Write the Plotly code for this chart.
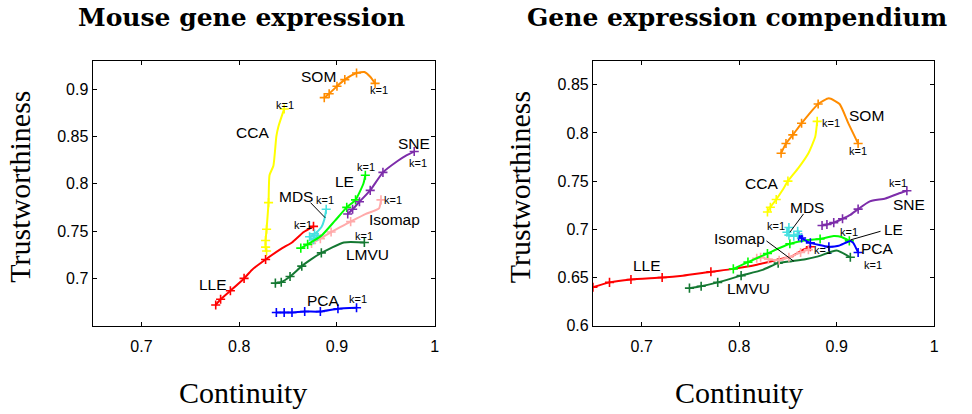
import plotly.graph_objects as go

# ---------------- Mouse gene expression (left panel) ----------------
# Each series: continuity (x), trustworthiness (y); first point is k=1.
# *_mk lists the indices of the points that carry a "+" marker.
m_som_x = [0.887, 0.892, 0.900, 0.908, 0.920, 0.928, 0.934, 0.939]
m_som_y = [0.891, 0.895, 0.903, 0.910, 0.917, 0.918, 0.913, 0.906]
m_som_mk = [0, 1, 2, 3, 4, 7]

m_cca_x = [0.846, 0.840, 0.838, 0.835, 0.831, 0.830, 0.828, 0.827, 0.827, 0.828]
m_cca_y = [0.879, 0.860, 0.850, 0.819, 0.809, 0.780, 0.752, 0.740, 0.733, 0.729]
m_cca_mk = [0, 5, 6, 7, 8, 9]

m_sne_x = [0.979, 0.971, 0.962, 0.947, 0.934, 0.923, 0.916, 0.911]
m_sne_y = [0.834, 0.830, 0.824, 0.812, 0.793, 0.781, 0.773, 0.768]
m_sne_mk = [0, 3, 4, 5, 6, 7]

m_le_x = [0.929, 0.927, 0.919, 0.910, 0.898, 0.884, 0.870, 0.863]
m_le_y = [0.809, 0.800, 0.783, 0.775, 0.761, 0.745, 0.736, 0.732]
m_le_mk = [0, 2, 3, 6, 7]

m_iso_x = [0.945, 0.943, 0.929, 0.914, 0.894, 0.883, 0.874]
m_iso_y = [0.783, 0.774, 0.768, 0.760, 0.749, 0.742, 0.737]
m_iso_mk = [0, 3, 4, 5, 6]

m_mds_x = [0.889, 0.887, 0.884, 0.877, 0.872, 0.876, 0.880]
m_mds_y = [0.773, 0.762, 0.754, 0.747, 0.744, 0.741, 0.745]
m_mds_mk = [0, 3, 4, 5, 6]

m_lle_x = [0.876, 0.866, 0.854, 0.844, 0.827, 0.813, 0.805, 0.791, 0.781, 0.776]
m_lle_y = [0.755, 0.749, 0.738, 0.732, 0.720, 0.709, 0.700, 0.687, 0.678, 0.672]
m_lle_mk = [0, 4, 6, 7, 8, 9]

m_lmvu_x = [0.928, 0.907, 0.884, 0.872, 0.864, 0.852, 0.843, 0.837]
m_lmvu_y = [0.738, 0.738, 0.727, 0.719, 0.713, 0.702, 0.696, 0.695]
m_lmvu_mk = [0, 2, 4, 5, 6, 7]

m_pca_x = [0.920, 0.901, 0.883, 0.867, 0.854, 0.846, 0.838]
m_pca_y = [0.669, 0.668, 0.665, 0.665, 0.664, 0.664, 0.664]
m_pca_mk = [0, 1, 2, 3, 4, 5, 6]

# ---------------- Gene expression compendium (right panel) ----------------
c_som_x = [0.922, 0.912, 0.903, 0.892, 0.881, 0.864, 0.855, 0.848, 0.843]
c_som_y = [0.789, 0.810, 0.830, 0.836, 0.830, 0.810, 0.798, 0.789, 0.779]
c_som_mk = [0, 4, 5, 6, 7, 8]

c_cca_x = [0.880, 0.878, 0.871, 0.861, 0.850, 0.844, 0.838, 0.832, 0.829]
c_cca_y = [0.812, 0.796, 0.779, 0.764, 0.750, 0.740, 0.731, 0.723, 0.718]
c_cca_mk = [0, 4, 6, 7, 8]

c_sne_x = [0.972, 0.963, 0.950, 0.934, 0.922, 0.914, 0.906, 0.897, 0.890, 0.885]
c_sne_y = [0.740, 0.737, 0.732, 0.729, 0.721, 0.715, 0.711, 0.707, 0.705, 0.704]
c_sne_mk = [0, 4, 6, 7, 8, 9]

c_mds_x = [0.851, 0.849, 0.851, 0.856, 0.860, 0.860]
c_mds_y = [0.702, 0.697, 0.694, 0.693, 0.695, 0.698]
c_mds_mk = [0, 1, 2, 3, 4, 5]

c_pca_x = [0.922, 0.917, 0.914, 0.902, 0.892, 0.881, 0.873, 0.864, 0.861]
c_pca_y = [0.676, 0.686, 0.688, 0.683, 0.682, 0.684, 0.686, 0.691, 0.693]
c_pca_mk = [0, 4, 6, 7, 8]

c_le_x = [0.913, 0.905, 0.897, 0.883, 0.870, 0.852, 0.829, 0.809, 0.794]
c_le_y = [0.688, 0.692, 0.693, 0.690, 0.689, 0.685, 0.675, 0.666, 0.659]
c_le_mk = [0, 3, 5, 6, 7, 8]

c_lle_x = [0.873, 0.864, 0.854, 0.837, 0.817, 0.794, 0.771, 0.742, 0.721, 0.689, 0.667, 0.650]
c_lle_y = [0.682, 0.678, 0.672, 0.668, 0.663, 0.659, 0.656, 0.652, 0.650, 0.648, 0.645, 0.640]
c_lle_mk = [0, 6, 8, 9, 10, 11]

c_iso_x = [0.871, 0.863, 0.851, 0.841, 0.830, 0.822, 0.818]
c_iso_y = [0.679, 0.676, 0.671, 0.668, 0.669, 0.671, 0.670]
c_iso_mk = [0, 1, 2, 3, 4, 5, 6]

c_lmvu_x = [0.914, 0.900, 0.881, 0.868, 0.854, 0.840, 0.824, 0.802, 0.778, 0.761, 0.749]
c_lmvu_y = [0.671, 0.678, 0.672, 0.669, 0.667, 0.665, 0.658, 0.652, 0.645, 0.641, 0.639]
c_lmvu_mk = [0, 5, 7, 8, 9, 10]

# Axis ticks
x_ticks = [0.7, 0.8, 0.9, 1.0]
x_ticktext = ["0.7", "0.8", "0.9", "1"]
m_y_ticks = [0.7, 0.75, 0.8, 0.85, 0.9]
m_y_ticktext = ["0.7", "0.75", "0.8", "0.85", "0.9"]
c_y_ticks = [0.6, 0.65, 0.7, 0.75, 0.8, 0.85]
c_y_ticktext = ["0.6", "0.65", "0.7", "0.75", "0.8", "0.85"]

COLORS = {
    "SOM": "rgb(255,140,0)",
    "CCA": "rgb(255,255,0)",
    "SNE": "rgb(125,45,170)",
    "LE": "rgb(0,255,0)",
    "Isomap": "rgb(255,170,170)",
    "MDS": "rgb(70,225,225)",
    "LLE": "rgb(255,0,0)",
    "LMVU": "rgb(20,120,50)",
    "PCA": "rgb(0,0,255)",
}

left_series = [
    ("CCA", m_cca_x, m_cca_y, m_cca_mk),
    ("SOM", m_som_x, m_som_y, m_som_mk),
    ("LLE", m_lle_x, m_lle_y, m_lle_mk),
    ("LMVU", m_lmvu_x, m_lmvu_y, m_lmvu_mk),
    ("PCA", m_pca_x, m_pca_y, m_pca_mk),
    ("Isomap", m_iso_x, m_iso_y, m_iso_mk),
    ("MDS", m_mds_x, m_mds_y, m_mds_mk),
    ("LE", m_le_x, m_le_y, m_le_mk),
    ("SNE", m_sne_x, m_sne_y, m_sne_mk),
]
right_series = [
    ("SOM", c_som_x, c_som_y, c_som_mk),
    ("CCA", c_cca_x, c_cca_y, c_cca_mk),
    ("SNE", c_sne_x, c_sne_y, c_sne_mk),
    ("LMVU", c_lmvu_x, c_lmvu_y, c_lmvu_mk),
    ("LLE", c_lle_x, c_lle_y, c_lle_mk),
    ("Isomap", c_iso_x, c_iso_y, c_iso_mk),
    ("LE", c_le_x, c_le_y, c_le_mk),
    ("PCA", c_pca_x, c_pca_y, c_pca_mk),
    ("MDS", c_mds_x, c_mds_y, c_mds_mk),
]

fig = go.Figure()


def add_series(series, xa, ya):
    for name, xs, ys, mk in series:
        col = COLORS[name]
        fig.add_trace(go.Scatter(
            x=xs, y=ys, mode="lines", xaxis=xa, yaxis=ya,
            line=dict(color=col, width=2, shape="spline", smoothing=0.5),
            hoverinfo="skip", showlegend=False))
        fig.add_trace(go.Scatter(
            x=[xs[i] for i in mk], y=[ys[i] for i in mk], mode="markers",
            xaxis=xa, yaxis=ya,
            marker=dict(symbol="cross-thin", size=6.5, color=col,
                        line=dict(color=col, width=1.6)),
            name=name, showlegend=False))


add_series(left_series, "x", "y")
add_series(right_series, "x2", "y2")

W, H = 972, 414
LABEL_FONT = dict(family="Liberation Sans, Arial, sans-serif", size=15.5, color="black")
K_FONT = dict(family="Liberation Sans, Arial, sans-serif", size=11, color="black")

# In-plot labels: (text, x, y, is_k_label)
left_labels = [
    ("SOM", 0.881, 0.913, False), ("k=1", 0.943, 0.899, True),
    ("k=1", 0.847, 0.883, True), ("CCA", 0.814, 0.854, False),
    ("SNE", 0.979, 0.843, False), ("k=1", 0.983, 0.822, True),
    ("k=1", 0.930, 0.818, True), ("LE", 0.908, 0.802, False),
    ("MDS", 0.858, 0.786, False), ("k=1", 0.888, 0.783, True),
    ("k=1", 0.957, 0.783, True), ("Isomap", 0.959, 0.762, False),
    ("k=1", 0.865, 0.756, True), ("k=1", 0.928, 0.745, True),
    ("LMVU", 0.931, 0.725, False), ("LLE", 0.773, 0.694, False),
    ("PCA", 0.886, 0.677, False), ("k=1", 0.921, 0.678, True),
]
right_labels = [
    ("SOM", 0.931, 0.818, False), ("k=1", 0.922, 0.781, True),
    ("k=1", 0.894, 0.810, True), ("CCA", 0.823, 0.748, False),
    ("k=1", 0.963, 0.748, True), ("SNE", 0.974, 0.726, False),
    ("MDS", 0.870, 0.723, False), ("k=1", 0.838, 0.703, True),
    ("Isomap", 0.800, 0.691, False), ("LE", 0.958, 0.700, False),
    ("k=1", 0.913, 0.697, True), ("PCA", 0.942, 0.680, False),
    ("k=1", 0.886, 0.679, True), ("k=1", 0.937, 0.663, True),
    ("LLE", 0.705, 0.662, False), ("LMVU", 0.810, 0.639, False),
]

annotations = []
for labels, xr, yr in ((left_labels, "x", "y"), (right_labels, "x2", "y2")):
    for text, lx, ly, small in labels:
        annotations.append(dict(
            text=text, x=lx, y=ly, xref=xr, yref=yr, showarrow=False,
            xanchor="center", yanchor="middle",
            font=K_FONT if small else LABEL_FONT))

TITLE_FONT = dict(family="DejaVu Serif, serif", size=25, color="black")
AXTITLE_FONT = dict(family="Liberation Serif, Times New Roman, serif", size=30, color="black")

for text, px in (("<b>Mouse gene expression</b>", 243), ("<b>Gene expression compendium</b>", 741)):
    annotations.append(dict(text=text, x=px / W, y=1 - 18 / H, xref="paper", yref="paper",
                            showarrow=False, xanchor="center", yanchor="middle",
                            font=TITLE_FONT))
for px in (244, 743):
    annotations.append(dict(text="Continuity", x=px / W, y=1 - 401 / H, xref="paper",
                            yref="paper", showarrow=False, xanchor="center",
                            yanchor="middle", font=AXTITLE_FONT))
for px in (20, 523):
    annotations.append(dict(text="Trustworthiness", x=px / W, y=1 - 191 / H, xref="paper",
                            yref="paper", showarrow=False, xanchor="center",
                            yanchor="middle", textangle=-90, font=AXTITLE_FONT))

# Leader lines from labels to their curves
leaders = [
    ("x", "y", 0.873, 0.780, 0.888, 0.764),
    ("x2", "y2", 0.866, 0.716, 0.852, 0.697),
    ("x2", "y2", 0.828, 0.688, 0.856, 0.667),
    ("x2", "y2", 0.945, 0.698, 0.914, 0.689),
]
shapes = [dict(type="line", xref=a, yref=b, x0=x0, y0=y0, x1=x1, y1=y1,
               line=dict(color="black", width=1)) for a, b, x0, y0, x1, y1 in leaders]

TICK_FONT = dict(family="Liberation Sans, Arial, sans-serif", size=16, color="black")
axis_common = dict(showgrid=False, zeroline=False, showline=True, linecolor="black",
                   linewidth=1, mirror="ticks", ticks="inside", ticklen=4,
                   tickcolor="black", tickfont=TICK_FONT)

ydom = [(H - 333) / H, (H - 62) / H]
fig.update_layout(
    width=W, height=H,
    margin=dict(l=0, r=0, t=0, b=0),
    paper_bgcolor="white", plot_bgcolor="white",
    showlegend=False,
    xaxis=dict(domain=[93 / W, 437 / W], range=[0.65, 1.0], tickvals=x_ticks,
               ticktext=x_ticktext, anchor="y", ticklabelstandoff=6, **axis_common),
    yaxis=dict(domain=ydom, range=[0.65, 0.93], tickvals=m_y_ticks,
               ticktext=m_y_ticktext, anchor="x", **axis_common),
    xaxis2=dict(domain=[596 / W, 939 / W], range=[0.65, 1.0], tickvals=x_ticks,
                ticktext=x_ticktext, anchor="y2", ticklabelstandoff=6, **axis_common),
    yaxis2=dict(domain=ydom, range=[0.6, 0.875], tickvals=c_y_ticks,
                ticktext=c_y_ticktext, anchor="x2", **axis_common),
    annotations=annotations,
    shapes=shapes,
)

fig.write_html("out.html")
